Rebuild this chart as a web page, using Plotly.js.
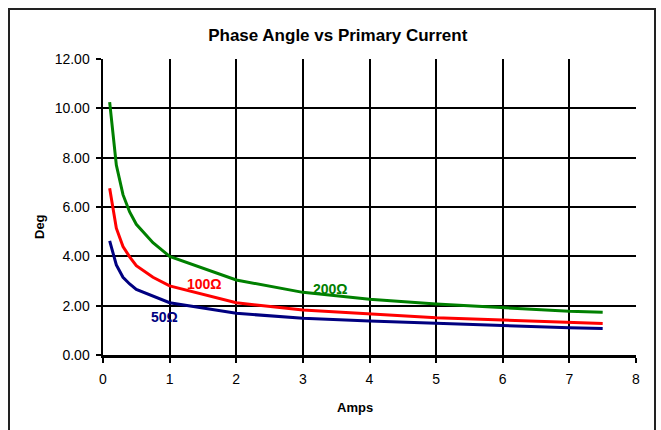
<!DOCTYPE html>
<html>
<head>
<meta charset="utf-8">
<script src="https://cdn.plot.ly/plotly-3.0.1.min.js"></script>
<style>
html,body{margin:0;padding:0;background:#fff;}
#chart{width:661px;height:430px;}
</style>
</head>
<body>
<div id="chart"></div>
<script>
const amps = [0.1, 0.2, 0.3, 0.4, 0.5, 0.75, 1, 2, 3, 4, 5, 6, 7, 7.5];
const deg200 = [10.25, 7.7, 6.5, 5.8, 5.3, 4.55, 4.0, 3.04, 2.54, 2.26, 2.07, 1.92, 1.77, 1.73];
const deg100 = [6.76, 5.14, 4.4, 3.98, 3.62, 3.15, 2.8, 2.12, 1.82, 1.66, 1.51, 1.42, 1.33, 1.28];
const deg50  = [4.63, 3.65, 3.15, 2.88, 2.66, 2.38, 2.12, 1.69, 1.49, 1.38, 1.28, 1.18, 1.1, 1.07];
const seriesNames = ['200\u03A9', '100\u03A9', '50\u03A9'];
const xTicks = [0, 1, 2, 3, 4, 5, 6, 7, 8];
const yTicks = [0, 2, 4, 6, 8, 10, 12];
const labelPos = [[3.42, 2.68], [1.53, 2.88], [0.93, 1.56]];
const colors = ['#008000', '#FF0000', '#000080'];
const titleText = 'Phase Angle vs Primary Current';
const xTitle = 'Amps';
const yTitle = 'Deg';

const font = 'Liberation Sans, Arial, sans-serif';
const ys = [deg200, deg100, deg50];
const traces = ys.map((y, i) => ({
  x: amps, y: y, type: 'scatter', mode: 'lines', name: seriesNames[i],
  line: {color: colors[i], width: 3}, hoverinfo: 'x+y'
}));

const annotations = seriesNames.map((n, i) => ({
  x: labelPos[i][0], y: labelPos[i][1], xref: 'x', yref: 'y', text: '<b>' + n + '</b>',
  showarrow: false, font: {family: font, size: 14, color: colors[i]}
}));
annotations.push({
  x: (355 - 103) / 533, y: -(407 - 355) / 296, xref: 'paper', yref: 'paper',
  xanchor: 'center', yanchor: 'middle', showarrow: false,
  text: '<b>' + xTitle + '</b>', font: {family: font, size: 13, color: '#000'}
});
annotations.push({
  x: -(103 - 39) / 533, y: (355 - 227) / 296, xref: 'paper', yref: 'paper',
  xanchor: 'center', yanchor: 'middle', showarrow: false, textangle: -90,
  text: '<b>' + yTitle + '</b>', font: {family: font, size: 13, color: '#000'}
});

const layout = {
  width: 661, height: 430,
  margin: {l: 103, r: 25, t: 59, b: 75},
  paper_bgcolor: '#ffffff', plot_bgcolor: '#ffffff',
  showlegend: false,
  title: {text: '<b>' + titleText + '</b>', font: {family: font, size: 17, color: '#000'},
          x: 0.511, xanchor: 'center', y: 0.918, yanchor: 'middle'},
  xaxis: {
    range: [0, 8], tickvals: xTicks, ticktext: xTicks.map(String),
    showgrid: true, gridcolor: '#000', gridwidth: 2,
    showline: true, linecolor: '#000', linewidth: 2.5,
    ticks: 'outside', ticklen: 5, tickwidth: 2, tickcolor: '#000',
    ticklabelstandoff: 5,
    tickfont: {family: font, size: 14, color: '#000'},
    zeroline: false
  },
  yaxis: {
    range: [0, 12], tickvals: yTicks, ticktext: yTicks.map(v => v.toFixed(2)),
    showgrid: true, gridcolor: '#000', gridwidth: 2,
    showline: true, linecolor: '#000', linewidth: 2.5,
    ticks: 'outside', ticklen: 5, tickwidth: 2, tickcolor: '#000',
    ticklabelstandoff: 3,
    tickfont: {family: font, size: 14, color: '#000'},
    zeroline: false
  },
  annotations: annotations,
  shapes: [{
    type: 'rect', xref: 'paper', yref: 'paper',
    x0: (9 - 103) / 533, x1: (655 - 103) / 533,
    y0: -0.3, y1: (355 - 9) / 296,
    line: {color: '#222', width: 2}, fillcolor: 'rgba(0,0,0,0)', layer: 'below'
  }]
};

Plotly.newPlot('chart', traces, layout, {displayModeBar: false, staticPlot: true});
</script>
</body>
</html>
